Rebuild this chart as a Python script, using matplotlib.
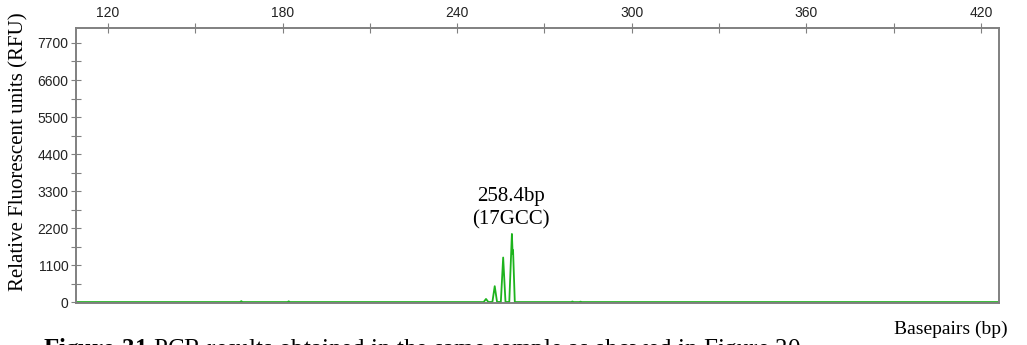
import matplotlib
matplotlib.use("Agg")
import matplotlib.pyplot as plt
from matplotlib.ticker import MultipleLocator

plt.rcParams["mathtext.fontset"] = "custom"
plt.rcParams["mathtext.bf"] = "Liberation Serif:bold"
plt.rcParams["mathtext.rm"] = "Liberation Serif"

# electropherogram trace (bp, RFU)
trace_bp = [109.0, 165.4, 165.8, 166.2, 181.7, 182.1, 182.5,
            249.1, 249.9, 250.7, 252.1, 252.9, 253.7,
            255.0, 255.8, 256.6, 257.9, 258.8, 259.05, 259.2, 259.8,
            279.2, 279.6, 280.0, 282.0, 282.4, 282.8, 426.2]
trace_rfu = [8, 8, 35, 8, 8, 30, 8,
             8, 100, 10, 10, 480, 10,
             10, 1330, 10, 10, 2030, 1450, 1550, 8,
             8, 25, 8, 8, 20, 8, 8]

x_ticks = [120, 180, 240, 300, 360, 420]
y_ticks = [0, 1100, 2200, 3300, 4400, 5500, 6600, 7700]
peak_label = "258.4bp\n(17GCC)"
peak_pos = (258.6, 2150)

serif = ["Liberation Serif", "DejaVu Serif"]
sans = ["Liberation Sans", "DejaVu Sans"]

fig = plt.figure(figsize=(10.27, 3.45), dpi=100)
ax = fig.add_axes([76 / 1027, 1 - 303 / 345, 923 / 1027, 275 / 345])

ax.plot(trace_bp, trace_rfu, color="#1db31d", lw=1.3)

ax.set_xlim(109.0, 426.2)
ax.set_ylim(-20, 8144)

ax.xaxis.tick_top()
ax.set_xticks(x_ticks)
ax.xaxis.set_minor_locator(MultipleLocator(30))
ax.set_yticks(y_ticks)
ax.yaxis.set_minor_locator(MultipleLocator(550))

for s in ax.spines.values():
    s.set_color("#808080")
    s.set_linewidth(1.4)

ax.tick_params(which="both", direction="inout", color="#808080", width=0.8)
ax.tick_params(which="major", length=7, labelsize=10, pad=2)
ax.tick_params(which="minor", length=7)
for lab in ax.get_xticklabels() + ax.get_yticklabels():
    lab.set_family(sans)
    lab.set_color("#222222")

ax.text(peak_pos[0], peak_pos[1], peak_label, ha="center", va="bottom",
        fontsize=15, family=serif, linespacing=1.3)

fig.text(19 / 1027, 1 - 152 / 345, "Relative Fluorescent units (RFU)",
         rotation=90, ha="center", va="center", fontsize=15, family=serif)
fig.text(1008 / 1027, 1 - 334 / 345, "Basepairs (bp)", ha="right",
         va="baseline", fontsize=14, family=serif)
fig.text(43 / 1027, 1 - 356 / 345,
         r"$\mathbf{Figure\ 31}$ PCR results obtained in the same sample as showed in Figure 30",
         ha="left", va="baseline", fontsize=18, family=serif)

fig.savefig("out.png", dpi=100)
